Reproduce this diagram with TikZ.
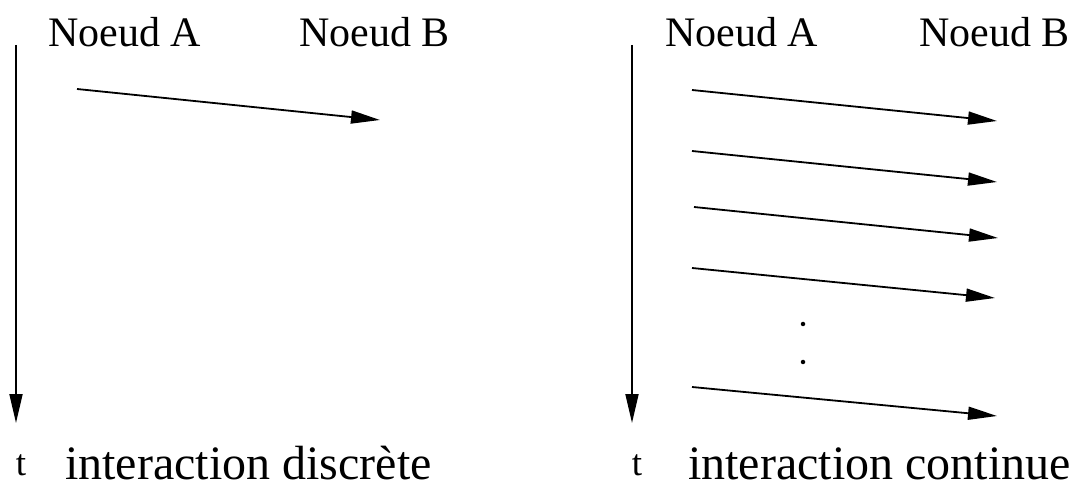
\documentclass[tikz,border=0pt]{standalone}
\usepackage{fontspec}
\setmainfont{Liberation Serif}
\usetikzlibrary{arrows.meta}
\begin{document}
\begin{tikzpicture}[x=1pt,y=-1pt,
  arr/.style={line width=1.8pt,-{Triangle[length=29pt,width=13pt]}},
  lbl/.style={anchor=base west,inner sep=0pt,font=\fontsize{42}{42}\selectfont},
  caption/.style={anchor=base west,inner sep=0pt,font=\fontsize{48}{48}\selectfont},
  tlbl/.style={anchor=base,inner sep=0pt,font=\fontsize{37}{37}\selectfont},
  dot/.style={circle,fill,inner sep=0pt,minimum size=4.5pt}]
\useasboundingbox (0,0) rectangle (1074,486);

% ---- discrete interaction ----
\coordinate (Ltop) at (16,45);
\coordinate (Lbot) at (16,423);
\draw[arr] (Ltop) -- (Lbot);
\node[tlbl] (Lt) at (21,475) {t};
\node[lbl] (LA) at (48,47) {Noeud A};
\node[lbl] (LB) at (299,47) {Noeud B};
\coordinate (La1) at (77,89);
\coordinate (Lb1) at (380,120);
\draw[arr] (La1) -- (Lb1);
\node[caption] (Lcap) at (65,479) {interaction discrète};

% ---- continuous interaction ----
\coordinate (Rtop) at (632,45);
\coordinate (Rbot) at (632,423);
\draw[arr] (Rtop) -- (Rbot);
\node[tlbl] (Rt) at (637,475) {t};
\node[lbl] (RA) at (665,47) {Noeud A};
\node[lbl] (RB) at (919,47) {Noeud B};
\coordinate (Ra1) at (692,90);  \coordinate (Rb1) at (997,121);
\coordinate (Ra2) at (692,151); \coordinate (Rb2) at (997,182);
\coordinate (Ra3) at (694,207); \coordinate (Rb3) at (998,238);
\coordinate (Ra4) at (692,268); \coordinate (Rb4) at (995,298);
\coordinate (Ra5) at (692,387); \coordinate (Rb5) at (997,416);
\foreach \i in {1,...,5} \draw[arr] (Ra\i) -- (Rb\i);
\node[dot] (d1) at (803,324) {};
\node[dot] (d2) at (803,362) {};
\node[caption] (Rcap) at (688,479) {interaction continue};
\end{tikzpicture}
\end{document}
